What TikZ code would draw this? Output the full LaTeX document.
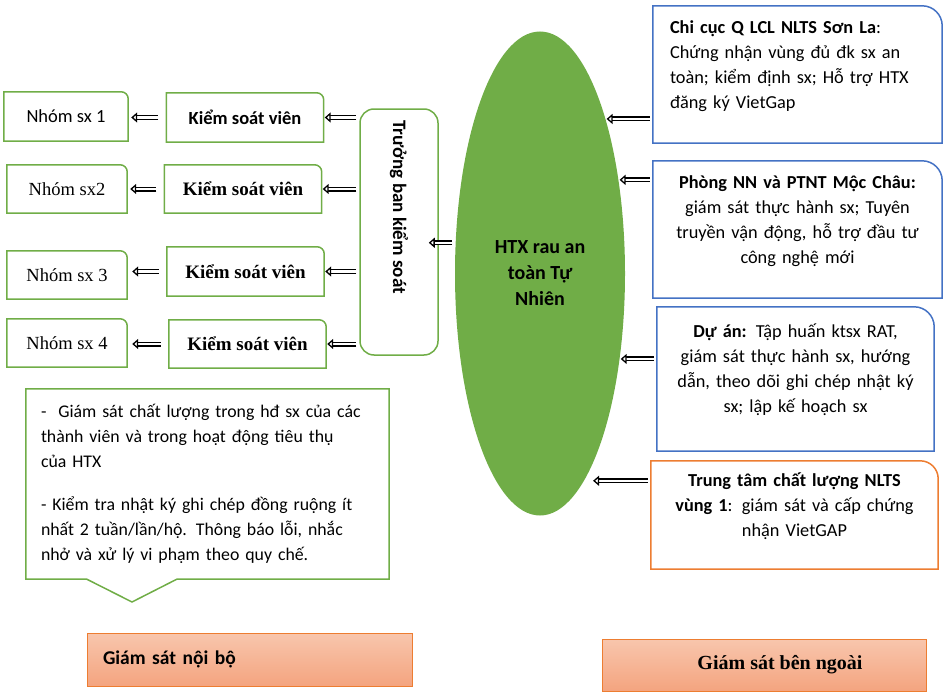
\documentclass[tikz,border=0pt]{standalone}
\usepackage{fontspec}
\setmainfont{Carlito}
\newfontfamily\tnr{Liberation Serif}
\usetikzlibrary{arrows.meta,shapes.geometric}

\definecolor{grn}{HTML}{70AD47}
\definecolor{blu}{HTML}{4472C4}
\definecolor{org}{HTML}{ED7D31}
\definecolor{peachtop}{HTML}{F8C6AD}
\definecolor{peachbot}{HTML}{F4A47F}

% frame with only the top right corner rounded
\newcommand{\cornerbox}[3]{\draw[#2] (#1.south west) -- (#1.north west) -- ([xshift=-#3]#1.north east) arc[start angle=90,end angle=0,radius=#3] -- (#1.south east) -- cycle;}

\tikzset{
  grpbox/.style={minimum width=120pt,minimum height=48pt,inner sep=0pt,font=\fontsize{18.5}{22}\selectfont},
  ksvbox/.style={minimum width=157pt,minimum height=48pt,inner sep=0pt,font=\bfseries\fontsize{18.5}{22}\selectfont},
  infobox/.style={inner ysep=0pt,font=\fontsize{18.3}{25}\selectfont},
  tagbox/.style={draw=org,line width=0.8pt,top color=peachtop,bottom color=peachbot,inner ysep=0pt},
  dbl/.style={double,double distance=2.4pt,line width=1.3pt,
    -{Triangle[open,fill=white,length=6pt,width=10pt,line width=1.3pt]},shorten <=3pt,shorten >=1pt}
}

\begin{document}
\begin{tikzpicture}[x=1pt,y=-1pt]
\useasboundingbox (0,0) rectangle (943,693);

% internal side
\node[grpbox,minimum width=124pt,minimum height=49pt] (n1) at (66,116.5) {Nhóm sx 1};
\node[grpbox,font=\tnr\fontsize{18.5}{22}\selectfont] (n2) at (67,189) {Nhóm sx2};
\node[grpbox,font=\tnr\fontsize{18.5}{22}\selectfont] (n3) at (67,275) {Nhóm sx 3};
\node[grpbox,font=\tnr\fontsize{18.5}{22}\selectfont] (n4) at (67,343) {Nhóm sx 4};

\node[ksvbox,minimum height=49pt] (k1) at (245,117.5) {Kiểm soát viên};
\node[ksvbox,font=\tnr\bfseries\fontsize{19}{22}\selectfont] (k2) at (243,189) {Kiểm soát viên};
\node[ksvbox,font=\tnr\bfseries\fontsize{19}{22}\selectfont,minimum height=49pt] (k3) at (245.5,271.5) {Kiểm soát viên};
\node[ksvbox,font=\tnr\bfseries\fontsize{19}{22}\selectfont] (k4) at (247.5,344) {Kiểm soát viên};

\foreach \n in {n1,n2,n3,n4,k1,k2,k3,k4}
  {\cornerbox{\n}{grn,line width=1.5pt}{7pt}}

\node[draw=grn,line width=1.5pt,rounded corners=14pt,minimum width=78pt,minimum height=246pt,inner sep=0pt,
  font=\bfseries\fontsize{19}{22}\selectfont] (tb) at (399,232) {\rotatebox{-90}{Trưởng ban kiểm soát\hspace{50pt}}};

\node[ellipse,fill=grn,minimum width=170pt,minimum height=484pt,inner sep=0pt,align=center,
  font=\bfseries\fontsize{20}{26}\selectfont] (e) at (540,273.5) {HTX rau an\\toàn Tự\\Nhiên};

% external side
\node[infobox,text depth=95pt,minimum width=289pt,minimum height=137pt,inner xsep=17pt,text width=255pt,align=left] (c1) at (797.5,74.5)
  {\textbf{Chi cục Q LCL NLTS Sơn La}:\\Chứng nhận vùng đủ đk sx an\\toàn; kiểm định sx; Hỗ trợ HTX\\đăng ký VietGap};
\node[infobox,text depth=94pt,minimum width=289pt,minimum height=137pt,inner xsep=10pt,text width=269pt,align=center] (c2) at (797.5,229.5)
  {\textbf{Phòng NN và PTNT Mộc Châu:}\\giám sát thực hành sx; Tuyên\\truyền vận động, hỗ trợ đầu tư\\công nghệ mới};
\node[infobox,text depth=96pt,minimum width=277pt,minimum height=144pt,inner xsep=10pt,text width=257pt,align=center] (c3) at (795.5,379)
  {\textbf{Dự án:} Tập huấn ktsx RAT,\\giám sát thực hành sx, hướng\\dẫn, theo dõi ghi chép nhật ký\\sx; lập kế hoạch sx};
\node[infobox,text depth=70pt,minimum width=287pt,minimum height=108pt,inner xsep=10pt,text width=267pt,align=center] (c4) at (794.5,515)
  {\textbf{Trung tâm chất lượng NLTS}\\\textbf{vùng 1}: giám sát và cấp chứng\\nhận VietGAP};

\cornerbox{c1}{blu,line width=1.5pt}{20pt}
\cornerbox{c2}{blu,line width=1.5pt}{20pt}
\cornerbox{c3}{blu,line width=1.5pt}{20pt}
\cornerbox{c4}{org,line width=1.5pt}{18pt}

% callout
\node[minimum width=363pt,minimum height=190pt,inner xsep=15pt,inner ysep=0pt,text width=333pt,align=left,
  font=\fontsize{17.8}{25}\selectfont] (cl) at (207.5,484)
  {-~~Giám sát chất lượng trong hđ sx của các\\thành viên và trong hoạt động tiêu thụ\\của HTX\\[18pt]- Kiểm tra nhật ký ghi chép đồng ruộng ít\\nhất 2 tuần/lần/hộ. Thông báo lỗi, nhắc\\nhở và xử lý vi phạm theo quy chế.};
\coordinate (tip) at (132,602);
\draw[grn,line width=1.5pt] (cl.north west) -- (cl.north east) -- (cl.south east) -- ([xshift=151pt]cl.south west)
  -- (tip) -- ([xshift=61pt]cl.south west) -- (cl.south west) -- cycle;

\node[tagbox,minimum width=325pt,minimum height=53pt,inner xsep=16pt,text width=293pt,align=left,
  font=\bfseries\fontsize{19.5}{22}\selectfont] (gn) at (249.5,659.5) {Giám sát nội bộ};
\node[tagbox,minimum width=324pt,minimum height=52pt,font=\tnr\bfseries\fontsize{20}{22}\selectfont] (gb) at (764,665)
  {\hspace*{32pt}Giám sát bên ngoài};

% arrows
\draw[dbl,shorten <=8pt,shorten >=3pt] (k1.west) -- (k1.west -| n1.east);
\draw[dbl,shorten <=8pt,shorten >=3pt] (k2.west) -- (k2.west -| n2.east);
\draw[dbl,shorten <=8pt,shorten >=5pt] (k3.west) -- (k3.west -| n3.east);
\draw[dbl,shorten <=8pt,shorten >=5pt] (k4.west) -- (k4.west -| n4.east);
\draw[dbl] (tb.west |- k1.east) -- (k1.east);
\draw[dbl] (tb.west |- k2.east) -- (k2.east);
\draw[dbl] (tb.west |- k3.east) -- (k3.east);
\draw[dbl] (tb.west |- k4.east) -- (k4.east);
\draw[dbl,shorten >=-10pt] (e.160.1) -- (e.160.1 -| tb.east);
\draw[dbl] (c1.west |- e.67.06) -- (e.67.06);
\draw[dbl] (c2.west |- e.50.7) -- (e.50.7);
\draw[dbl] (c3.west |- e.-47.08) -- (e.-47.08);
\draw[dbl,shorten >=9pt] (c4.west |- e.-78.3) -- (e.-78.3);
\end{tikzpicture}
\end{document}
